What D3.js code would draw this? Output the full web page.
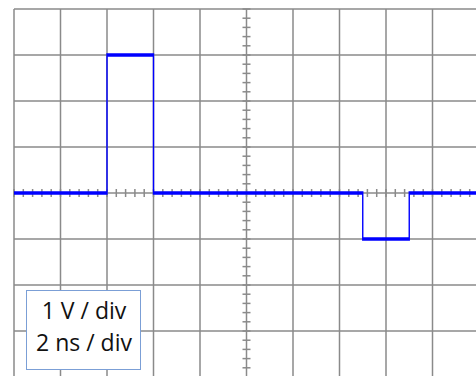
<!DOCTYPE html>
<html><head><meta charset="utf-8">
<script src="https://cdn.jsdelivr.net/npm/d3@7"></script>
<style>html,body{margin:0;padding:0;background:#fff;overflow:hidden}</style>
</head><body>
<script>
// Signal data (time in ns, voltage in V)
const times = [0, 4, 6, 15, 17, 20];
const volts = [0, 3, 0, -1, 0, 0];
// Scope settings
const timeDomain = [0, 20];
const voltDomain = [-4, 4];
const legendLines = ["1 V / div", "2 ns / div"];

const W = 476, H = 376;
const svg = d3.select("body").append("svg").attr("width", W).attr("height", H);

const x = d3.scaleLinear().domain(timeDomain).range([14, 479]);
const y = d3.scaleLinear().domain(voltDomain).range([377, 9]);

const gridColor = "#8a8a8a";
const grid = svg.append("g");
grid.selectAll("line.v").data(d3.range(0, 20.001, 2)).join("line")
  .attr("x1", d => x(d)).attr("x2", d => x(d))
  .attr("y1", y(4)).attr("y2", y(-4))
  .attr("stroke", gridColor).attr("stroke-width", 1.5);
grid.selectAll("line.h").data(d3.range(-4, 4.001, 1)).join("line")
  .attr("x1", x(0)).attr("x2", x(20))
  .attr("y1", d => y(d)).attr("y2", d => y(d))
  .attr("stroke", gridColor).attr("stroke-width", 1.5);

const xc = x(10), yc = y(0);
grid.selectAll("line.mx").data(d3.range(0, 20.001, 0.4)).join("line")
  .attr("x1", d => x(d)).attr("x2", d => x(d))
  .attr("y1", yc - 4).attr("y2", yc + 4)
  .attr("stroke", gridColor).attr("stroke-width", 1.5);
grid.selectAll("line.my").data(d3.range(-4, 4.001, 0.2)).join("line")
  .attr("x1", xc - 4).attr("x2", xc + 4)
  .attr("y1", d => y(d)).attr("y2", d => y(d))
  .attr("stroke", gridColor).attr("stroke-width", 1.5);

const k = 2.5;
const pts = times.map((t, i) => [t, volts[i]]);
const line = d3.line().x(d => x(d[0])).y(d => y(d[1]) / k).curve(d3.curveStepAfter);
svg.append("g").attr("transform", `scale(1,${k})`)
  .append("path").datum(pts)
  .attr("d", line).attr("fill", "none")
  .attr("stroke", "#0000ff").attr("stroke-width", 1.4);

const box = svg.append("g");
box.append("rect").attr("x", 26.5).attr("y", 290.5).attr("width", 114).attr("height", 79)
  .attr("fill", "#fff").attr("stroke", "#7b9fd6").attr("stroke-width", 1);
box.selectAll("text").data(legendLines).join("text")
  .attr("x", 84).attr("y", (d, i) => 319 + i * 32)
  .attr("text-anchor", "middle")
  .attr("font-family", "'Open Sans', sans-serif").attr("font-size", 23)
  .attr("fill", "#111").text(d => d);
</script>
</body></html>
